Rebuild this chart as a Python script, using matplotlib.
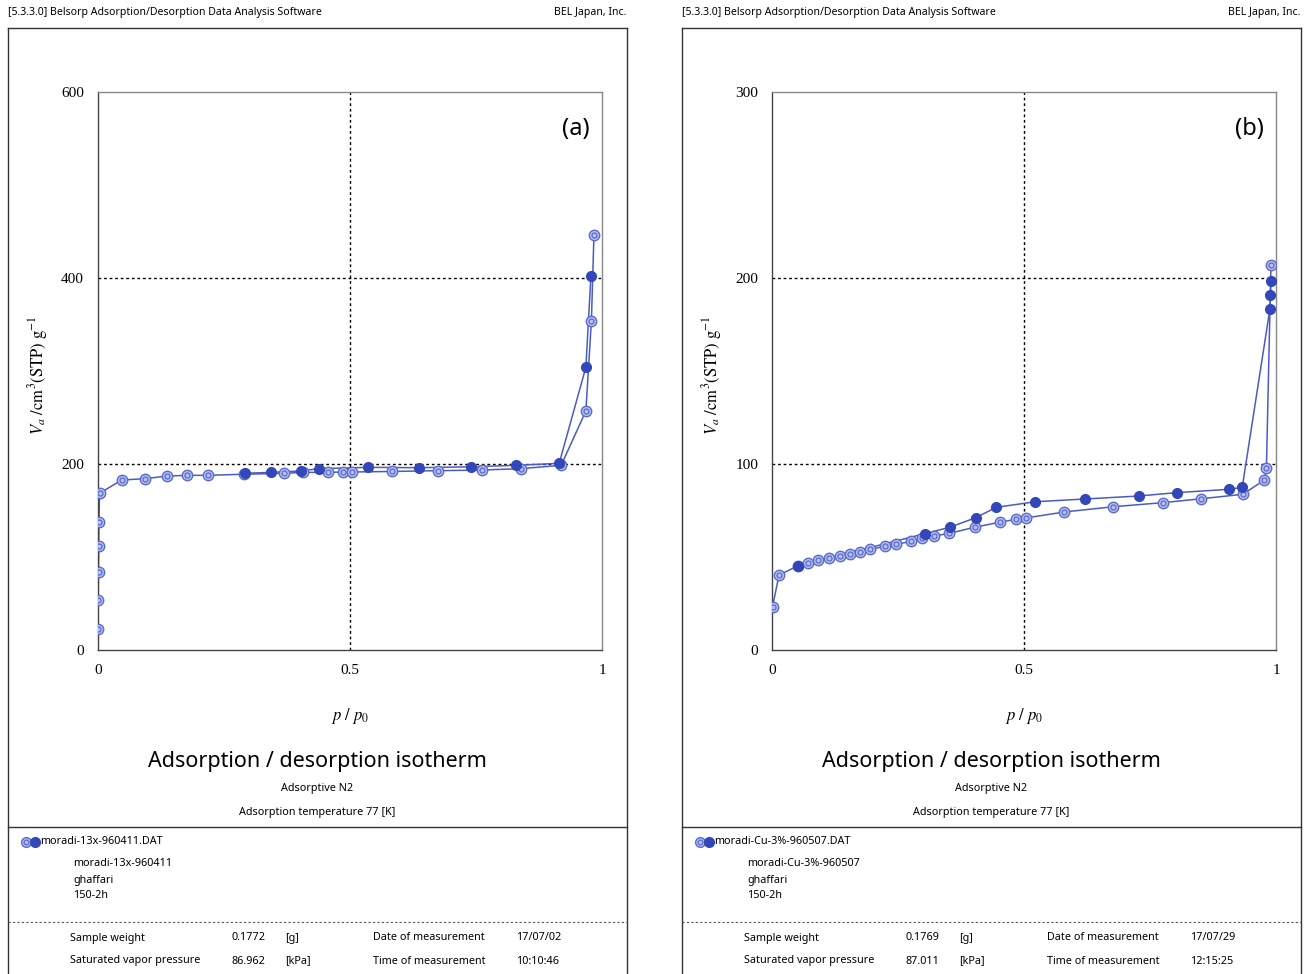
import matplotlib.pyplot as plt
from matplotlib.lines import Line2D
import numpy as np

plt.rcParams['mathtext.fontset'] = 'stix'

W, H = 1306, 974

# panel (a): 13X zeolite
ads_a_x = [0.0002, 0.0005, 0.001, 0.0015, 0.002, 0.003, 0.047, 0.093, 0.136, 0.176,
           0.219, 0.289, 0.370, 0.407, 0.457, 0.487, 0.504, 0.583, 0.674, 0.761,
           0.839, 0.919, 0.968, 0.979, 0.984]
ads_a_y = [22.9, 53.8, 83.9, 111.8, 137.3, 168.5, 182.8, 184.2, 187.0, 187.8,
           187.8, 189.0, 190.0, 191.0, 191.0, 191.4, 191.4, 192.0, 192.8, 193.5,
           195.0, 198.6, 257.0, 354.0, 446.0]
des_a_x = [0.978, 0.968, 0.915, 0.830, 0.741, 0.637, 0.536, 0.438, 0.402, 0.343, 0.292]
des_a_y = [402.0, 304.0, 200.7, 198.6, 197.0, 196.0, 196.4, 195.0, 192.5, 191.0, 190.0]

# panel (b): Cu 3% sample
ads_b_x = [0.001, 0.014, 0.051, 0.071, 0.092, 0.114, 0.134, 0.155, 0.175, 0.194,
           0.225, 0.246, 0.276, 0.297, 0.321, 0.352, 0.402, 0.452, 0.485, 0.504,
           0.580, 0.676, 0.775, 0.851, 0.934, 0.977, 0.981, 0.990]
ads_b_y = [23.3, 40.3, 45.2, 46.6, 48.2, 49.3, 50.7, 51.6, 52.7, 54.1,
           55.7, 56.8, 58.4, 60.0, 61.3, 62.7, 66.0, 68.7, 70.3, 71.0,
           74.2, 77.0, 79.2, 81.3, 83.7, 91.4, 98.0, 207.0]
des_b_x = [0.990, 0.989, 0.988, 0.933, 0.907, 0.803, 0.728, 0.622, 0.522, 0.445,
           0.404, 0.353, 0.304, 0.051]
des_b_y = [198.6, 190.7, 183.5, 87.5, 86.4, 84.6, 82.8, 81.2, 79.7, 76.7,
           71.1, 66.0, 62.6, 45.2]

panels = [
    dict(ox=0, tag='(a)', ymax=600, yticks=[0, 200, 400, 600], grid_y=[200, 400],
         ads=(ads_a_x, ads_a_y), des=(des_a_x, des_a_y),
         name='moradi-13x-960411', weight='0.1772', psat='86.962',
         date='17/07/02', time='10:10:46'),
    dict(ox=674, tag='(b)', ymax=300, yticks=[0, 100, 200, 300], grid_y=[100, 200],
         ads=(ads_b_x, ads_b_y), des=(des_b_x, des_b_y),
         name='moradi-Cu-3%-960507', weight='0.1769', psat='87.011',
         date='17/07/29', time='12:15:25'),
]

LINE = '#4a5cc4'
DARK = '#3347b8'
RING = '#5a6ad0'
LIGHT = '#b8c0ee'
SANS = ['Noto Sans', 'DejaVu Sans']
SERIF = 'Liberation Serif'
SMALL = 7.8

fig = plt.figure(figsize=(W / 100, H / 100), dpi=100)


def fx(x):
    return x / W


def fy(y):
    return 1 - y / H


def txt(x, y, s, **kw):
    kw.setdefault('family', SANS)
    kw.setdefault('fontsize', SMALL)
    kw.setdefault('va', 'center')
    fig.text(fx(x), fy(y), s, **kw)


def hline(x0, x1, y, **kw):
    fig.add_artist(Line2D([fx(x0), fx(x1)], [fy(y), fy(y)], transform=fig.transFigure, **kw))


def vline(x, y0, y1, **kw):
    fig.add_artist(Line2D([fx(x), fx(x)], [fy(y0), fy(y1)], transform=fig.transFigure, **kw))


def open_marks(ax, x, y):
    ax.plot(x, y, ls='none', marker='o', ms=7.5, mfc=LIGHT, mec=RING, mew=1.0, zorder=3)
    ax.plot(x, y, ls='none', marker='o', ms=3.6, mfc='none', mec=RING, mew=0.9, zorder=3)


for p in panels:
    ox = p['ox']

    # page frame
    frame = dict(color='#333333', lw=1.0)
    hline(ox + 8, ox + 627, 28, **frame)
    vline(ox + 8, 28, H, **frame)
    vline(ox + 627, 28, H, **frame)
    hline(ox + 8, ox + 627, 827, **frame)
    hline(ox + 8, ox + 627, 922, color='#555555', lw=0.8, ls=(0, (2, 2)))

    txt(ox + 8, 13, '[5.3.3.0] Belsorp Adsorption/Desorption Data Analysis Software', fontsize=7.6)
    txt(ox + 626, 13, 'BEL Japan, Inc.', fontsize=7.6, ha='right')

    ax = fig.add_axes([fx(ox + 98), fy(650), (602 - 98) / W, (650 - 92) / H])
    ax.set_xlim(0, 1)
    ax.set_ylim(0, p['ymax'])
    ax.set_xticks([0, 0.5, 1])
    ax.set_xticklabels(['0', '0.5', '1'])
    ax.set_yticks(p['yticks'])
    ax.tick_params(length=0, pad=10, labelsize=11)
    for lab in ax.get_xticklabels() + ax.get_yticklabels():
        lab.set_family(SERIF)
    for s in ax.spines.values():
        s.set_color('#444444')
        s.set_linewidth(1.0)
    ax.spines['right'].set_color('#888888')
    ax.spines['top'].set_color('#888888')
    for gy in p['grid_y']:
        ax.axhline(gy, color='black', lw=1.0, ls=(0, (2, 2)), zorder=1)
    ax.axvline(0.5, color='black', lw=1.0, ls=(0, (2, 2)), zorder=1)

    ax_x, ax_y = p['ads']
    de_x, de_y = p['des']
    ax.plot(ax_x, ax_y, color=LINE, lw=1.1, zorder=2)
    ax.plot(de_x, de_y, color=LINE, lw=1.1, zorder=2)
    open_marks(ax, ax_x, ax_y)
    ax.plot(de_x, de_y, ls='none', marker='o', ms=7, mfc=DARK, mec=DARK, zorder=4)

    ax.text(0.975, 0.955, p['tag'], transform=ax.transAxes, ha='right', va='top',
            fontsize=17, family=SANS)

    txt(ox + 350, 716, r'$p\ /\ p_0$', ha='center', fontsize=12)
    fig.text(fx(ox + 38), fy(375),
             r'$V_a\ /\mathrm{cm}^3\mathrm{(STP)}\ \mathrm{g}^{-1}$', rotation=90,
             ha='center', va='center', fontsize=12)

    txt(ox + 317, 762, 'Adsorption / desorption isotherm', ha='center', fontsize=15.5)
    txt(ox + 317, 789, 'Adsorptive N2', ha='center')
    txt(ox + 317, 812, 'Adsorption temperature 77 [K]', ha='center')

    # legend markers and sample info
    fig.add_artist(Line2D([fx(ox + 26)], [fy(842)], transform=fig.transFigure, ls='none',
                          marker='o', ms=7, mfc=LIGHT, mec=RING, mew=1.0))
    fig.add_artist(Line2D([fx(ox + 26)], [fy(842)], transform=fig.transFigure, ls='none',
                          marker='o', ms=3.4, mfc='none', mec=RING, mew=0.9))
    fig.add_artist(Line2D([fx(ox + 35)], [fy(842)], transform=fig.transFigure, ls='none',
                          marker='o', ms=7, mfc=DARK, mec=DARK))
    txt(ox + 40, 842, p['name'] + '.DAT')
    txt(ox + 73, 864, p['name'])
    txt(ox + 73, 880, 'ghaffari')
    txt(ox + 73, 895, '150-2h')

    txt(ox + 70, 938, 'Sample weight')
    txt(ox + 231, 938, p['weight'])
    txt(ox + 285, 938, '[g]')
    txt(ox + 373, 938, 'Date of measurement')
    txt(ox + 516, 938, p['date'])
    txt(ox + 70, 961, 'Saturated vapor pressure')
    txt(ox + 231, 961, p['psat'])
    txt(ox + 285, 961, '[kPa]')
    txt(ox + 373, 961, 'Time of measurement')
    txt(ox + 516, 961, p['time'])

fig.savefig('out.png', dpi=100)
